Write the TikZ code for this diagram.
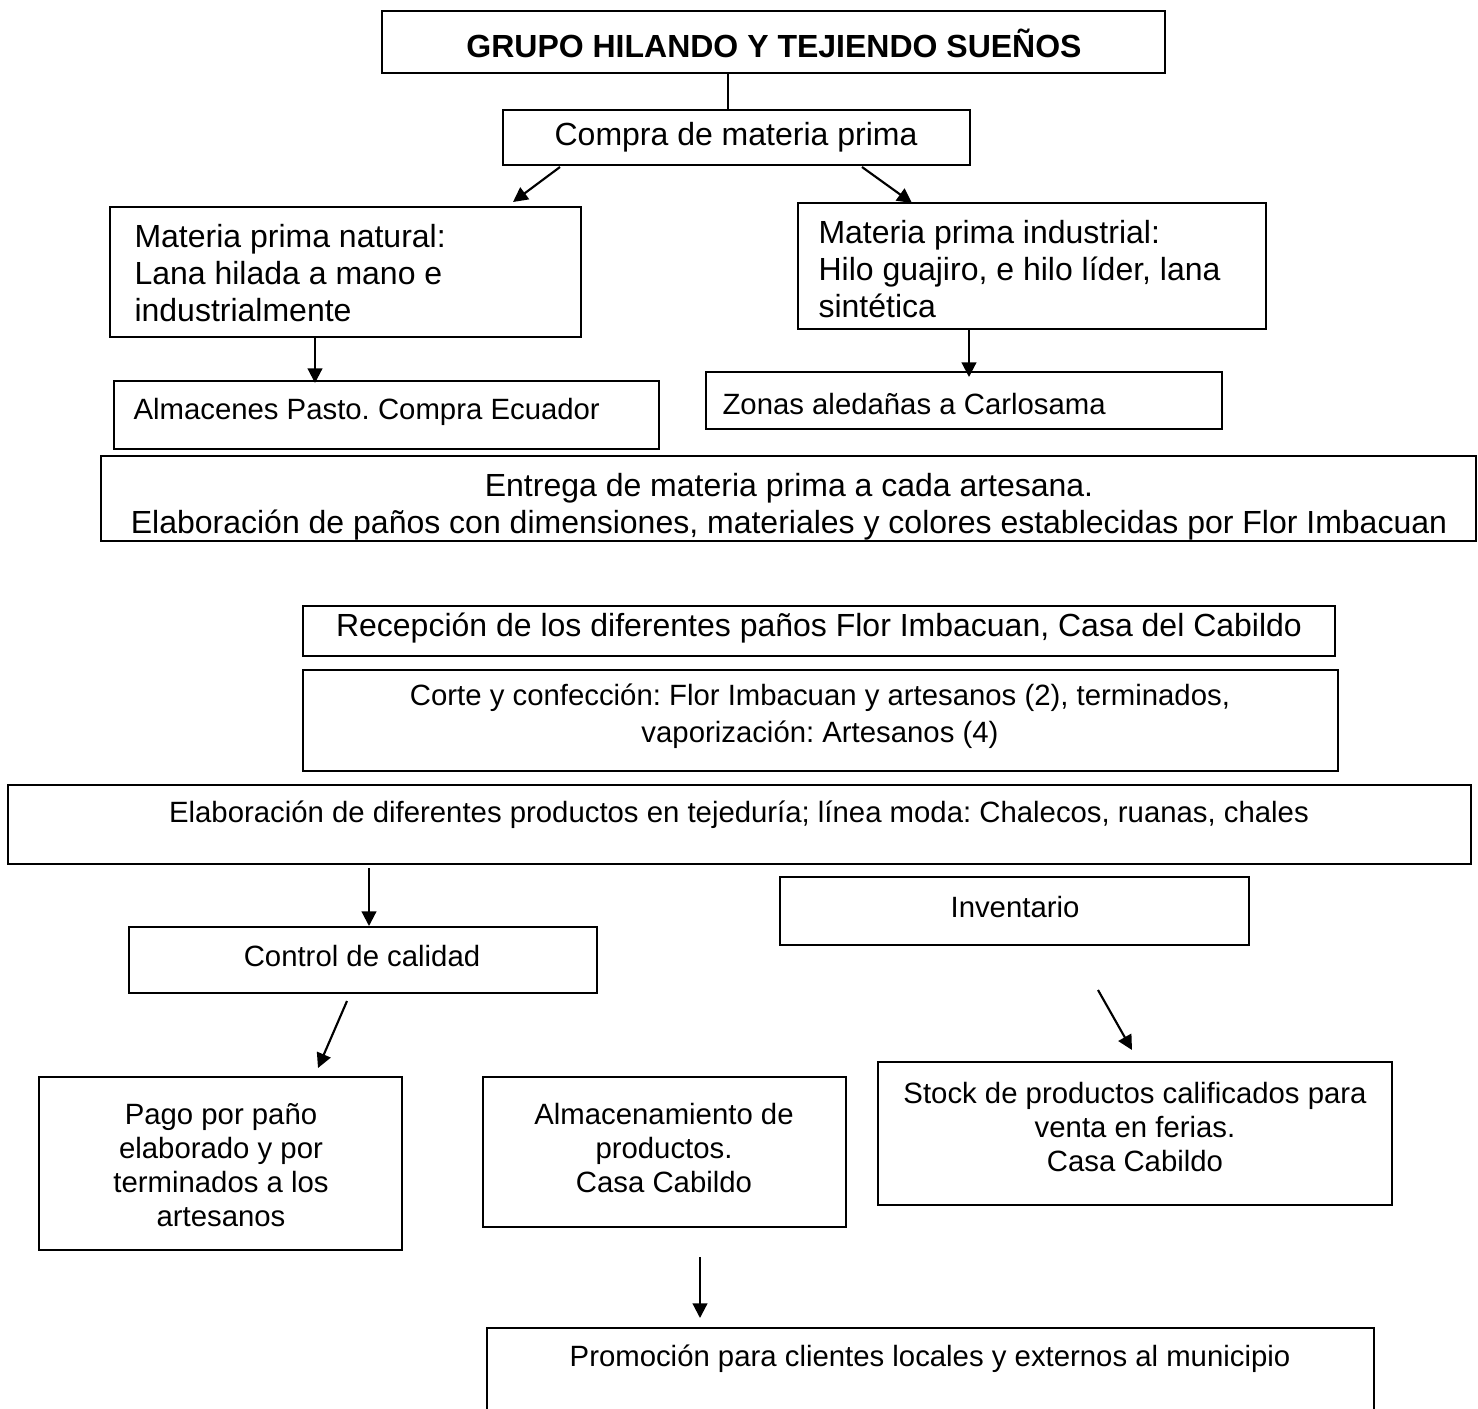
\documentclass[tikz,border=0pt]{standalone}
\usepackage{fontspec}
\setmainfont{Liberation Sans}
\usetikzlibrary{fit,arrows.meta}
\frenchspacing
\tikzset{
  box/.style={draw, line width=0.8pt, inner sep=0pt},
  big/.style={font=\fontsize{12}{13.9}\selectfont\frenchspacing, inner sep=0pt},
  bigb/.style={font=\fontsize{12}{13.9}\selectfont\bfseries, inner sep=0pt},
  small/.style={font=\fontsize{11}{12.75}\selectfont\frenchspacing, inner sep=0pt},
  smallw/.style={font=\fontsize{11}{13.9}\selectfont\frenchspacing, inner sep=0pt},
  arr/.style={line width=0.8pt, -{Triangle[length=5.5pt,width=5.5pt]}},
}
\begin{document}
\begin{tikzpicture}[x=0.375pt,y=-0.375pt]
\clip (0,0) rectangle (1478,1408);
\fill[white] (0,0) rectangle (1478,1408);

% boxes
\node[box, fit={(382,11)(1165,73)}] (title) {};
\node[box, fit={(503,110)(970,165)}] (compra) {};
\node[box, fit={(110,207)(581,337)}] (natural) {};
\node[box, fit={(798,203)(1266,329)}] (industrial) {};
\node[box, fit={(114,381)(659,449)}] (almacenes) {};
\node[box, fit={(706,372)(1222,429)}] (zonas) {};
\node[box, line width=1pt, fit={(101,456)(1476,541)}] (entrega) {};
\node[box, fit={(303,606)(1335,656)}] (recepcion) {};
\node[box, fit={(303,670)(1338,771)}] (corte) {};
\node[box, fit={(8,785)(1471,864)}] (elaboracion) {};
\node[box, fit={(780,877)(1249,945)}] (inventario) {};
\node[box, fit={(129,927)(597,993)}] (control) {};
\node[box, fit={(39,1077)(402,1250)}] (pago) {};
\node[box, fit={(483,1077)(846,1227)}] (almacenamiento) {};
\node[box, fit={(878,1062)(1392,1205)}] (stock) {};
\node[box, fit={(487,1328)(1374,1440)}] (promocion) {};

% texts
\node[bigb] (titleT) at (774,43) {GRUPO HILANDO Y TEJIENDO SUEÑOS};
\node[big] (compraT) at (736,137) {Compra de materia prima};
\node[big, align=left, anchor=west] (naturalT) at (134,273) {Materia prima natural:\\Lana hilada a mano e\\industrialmente};
\node[big, align=left, anchor=west] (industrialT) at (818,269) {Materia prima industrial:\\Hilo guajiro, e hilo líder, lana\\sintética};
\node[small, anchor=west] (almacenesT) at (133,412) {Almacenes Pasto. Compra Ecuador};
\node[small, anchor=west] (zonasT) at (722,404) {Zonas aledañas a Carlosama};
\node[big, align=center] (entregaT) at (789,507) {Entrega de materia prima a cada artesana.\\Elaboración de paños con dimensiones, materiales y colores establecidas por Flor Imbacuan};
\node[big] (recepcionT) at (819,628) {Recepción de los diferentes paños Flor Imbacuan, Casa del Cabildo};
\node[smallw, align=center] (corteT) at (820,716) {Corte y confección: Flor Imbacuan y artesanos (2), terminados,\\vaporización: Artesanos (4)};
\node[small] (elaboracionT) at (739,815) {Elaboración de diferentes productos en tejeduría; línea moda: Chalecos, ruanas, chales};
\node[small] (inventarioT) at (1015,907) {Inventario};
\node[small] (controlT) at (362,956) {Control de calidad};
\node[small, align=center] (pagoT) at (221,1165) {Pago por paño\\elaborado y por\\terminados a los\\artesanos};
\node[small, align=center] (almacenamientoT) at (664,1148) {Almacenamiento de\\productos.\\Casa Cabildo};
\node[small, align=center] (stockT) at (1135,1127) {Stock de productos calificados para\\venta en ferias.\\Casa Cabildo};
\node[small] (promocionT) at (930,1359) {Promoción para clientes locales y externos al municipio};

% connector ends
\coordinate (t1) at (728,73);   \coordinate (t2) at (728,110);
\coordinate (a1s) at (560,167); \coordinate (a1e) at (513,202);
\coordinate (a2s) at (862,167); \coordinate (a2e) at (912,203);
\coordinate (a3s) at (315,338); \coordinate (a3e) at (315,383);
\coordinate (a4s) at (969,329); \coordinate (a4e) at (969,377);
\coordinate (a5s) at (369,868); \coordinate (a5e) at (369,926);
\coordinate (a6s) at (347,1001); \coordinate (a6e) at (318,1068);
\coordinate (a7s) at (1098,990); \coordinate (a7e) at (1132,1050);
\coordinate (a8s) at (700,1257); \coordinate (a8e) at (700,1318);

\draw[line width=0.5pt] (t1) -- (t2);
\draw[arr] (a1s) -- (a1e);
\draw[arr] (a2s) -- (a2e);
\draw[arr] (a3s) -- (a3e);
\draw[arr] (a4s) -- (a4e);
\draw[arr] (a5s) -- (a5e);
\draw[arr] (a6s) -- (a6e);
\draw[arr] (a7s) -- (a7e);
\draw[arr] (a8s) -- (a8e);
\end{tikzpicture}
\end{document}
